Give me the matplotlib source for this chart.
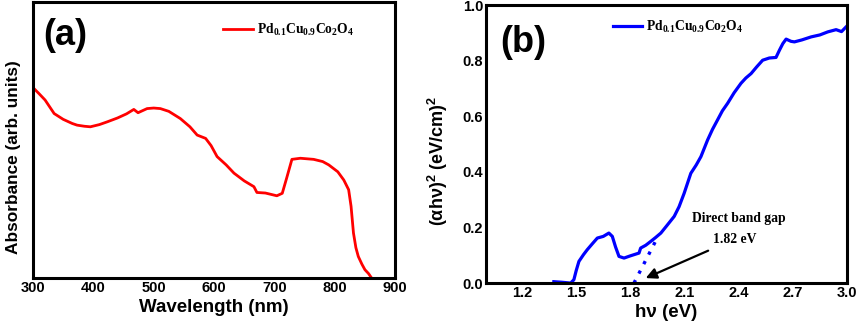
import matplotlib.pyplot as plt

plt.rcParams['font.family'] = 'Liberation Sans'
plt.rcParams['font.weight'] = 'bold'
plt.rcParams['mathtext.fontset'] = 'custom'
plt.rcParams['mathtext.default'] = 'regular'

# panel (a): UV-vis absorbance
wavelength = [300, 310, 320, 335, 350, 365, 373, 385, 395, 410, 423, 440, 455, 467, 474,
              481, 489, 500, 511, 525, 544, 560, 572, 586, 595, 605, 620, 633, 650, 666,
              671, 685, 704, 713, 720, 729, 743, 765, 780, 790, 805, 815, 823, 827, 831,
              835, 839, 845, 850, 856, 861]
absorbance = [0.690, 0.668, 0.645, 0.596, 0.575, 0.560, 0.554, 0.550, 0.548, 0.556, 0.566,
              0.580, 0.595, 0.611, 0.599, 0.606, 0.614, 0.616, 0.614, 0.604, 0.578, 0.548,
              0.518, 0.506, 0.480, 0.440, 0.410, 0.380, 0.352, 0.331, 0.310, 0.308, 0.298,
              0.307, 0.360, 0.430, 0.434, 0.430, 0.422, 0.410, 0.385, 0.355, 0.320, 0.260,
              0.163, 0.110, 0.078, 0.050, 0.030, 0.016, 0.0]

# panel (b): Tauc plot
energy = [1.376, 1.42, 1.469, 1.487, 1.500, 1.515, 1.540, 1.561, 1.590, 1.617, 1.650,
          1.681, 1.700, 1.718, 1.737, 1.765, 1.800, 1.848, 1.857, 1.885, 1.913, 1.940,
          1.969, 2.000, 2.043, 2.070, 2.098, 2.135, 2.165, 2.191, 2.228, 2.255, 2.283,
          2.310, 2.339, 2.375, 2.413, 2.440, 2.469, 2.500, 2.533, 2.570, 2.607, 2.626,
          2.645, 2.663, 2.690, 2.709, 2.750, 2.802, 2.850, 2.894, 2.940, 2.970, 3.000]
tauc = [0.005, 0.003, 0.0, 0.012, 0.045, 0.078, 0.102, 0.120, 0.142, 0.162, 0.168,
        0.180, 0.168, 0.130, 0.096, 0.090, 0.098, 0.108, 0.126, 0.136, 0.150, 0.164,
        0.180, 0.205, 0.240, 0.275, 0.323, 0.395, 0.425, 0.455, 0.515, 0.553, 0.587,
        0.620, 0.647, 0.685, 0.719, 0.738, 0.754, 0.778, 0.802, 0.810, 0.812, 0.838,
        0.862, 0.878, 0.870, 0.868, 0.875, 0.886, 0.893, 0.904, 0.912, 0.905, 0.925]
fit_x = [1.82, 1.955]
fit_y = [0.0, 0.17]

formula = r'Pd$_{0.1}$Cu$_{0.9}$Co$_2$O$_4$'
serif = {'family': 'Liberation Serif', 'weight': 'bold', 'size': 9.8}

fig = plt.figure(figsize=(8.58, 3.25), dpi=100)
ax1 = fig.add_axes([0.0385, 0.1446, 0.422, 0.849])
ax2 = fig.add_axes([0.5664, 0.129, 0.4207, 0.855])

ax1.plot(wavelength, absorbance, color='#ff0000', lw=2, label=formula)
ax1.set_xlim(300, 900)
ax1.set_ylim(0, 1)
ax1.set_yticks([])
ax1.set_xticks([300, 400, 500, 600, 700, 800, 900])
ax1.set_xlabel('Wavelength (nm)', fontsize=13.5, fontweight='bold', labelpad=3)
ax1.set_ylabel('Absorbance (arb. units)', fontsize=12.4, fontweight='bold')
ax1.yaxis.set_label_coords(-0.033, 0.438)
ax1.text(0.028, 0.88, '(a)', transform=ax1.transAxes, fontsize=26, fontweight='bold', va='center')
ax1.legend(loc='center left', bbox_to_anchor=(0.525, 0.899), frameon=False, prop=serif,
           borderpad=0, borderaxespad=0, handlelength=2.2, handletextpad=0.3)

ax2.plot(energy, tauc, color='#0000ff', lw=2.3, label=formula)
ax2.plot(fit_x, fit_y, color='#0000ff', lw=2.4, ls=(0, (1, 2.2)))
ax2.set_xlim(1.0, 3.0)
ax2.set_ylim(0, 1.0)
ax2.set_xticks([1.2, 1.5, 1.8, 2.1, 2.4, 2.7, 3.0])
ax2.set_yticks([0.0, 0.2, 0.4, 0.6, 0.8, 1.0])
ax2.set_xlabel('hν (eV)', fontsize=13.5, fontweight='bold')
ax2.xaxis.set_label_coords(0.5, -0.075)
ax2.set_ylabel('(αhν)$^2$ (eV/cm)$^2$', fontsize=13, fontweight='bold')
ax2.yaxis.set_label_coords(-0.1, 0.439)
ax2.text(0.039, 0.867, '(b)', transform=ax2.transAxes, fontsize=26, fontweight='bold', va='center')
ax2.legend(loc='center left', bbox_to_anchor=(0.352, 0.921), frameon=False, prop=serif,
           borderpad=0, borderaxespad=0, handlelength=2.15, handletextpad=0.3)
ax2.text(2.144, 0.234, 'Direct band gap', fontdict=serif, va='center')
ax2.annotate('1.82 eV', xy=(1.885, 0.018), xytext=(2.256, 0.158),
             family='Liberation Serif', fontweight='bold', fontsize=9.8, va='center',
             arrowprops=dict(arrowstyle='-|>', color='black', lw=1.6, mutation_scale=16,
                             shrinkA=4, shrinkB=0))

for ax in (ax1, ax2):
    for s in ax.spines.values():
        s.set_linewidth(2.2)
    ax.tick_params(length=0, pad=2, labelsize=10.5)
    for lab in ax.get_xticklabels() + ax.get_yticklabels():
        lab.set_fontweight('bold')

fig.savefig('out.png', dpi=100)
